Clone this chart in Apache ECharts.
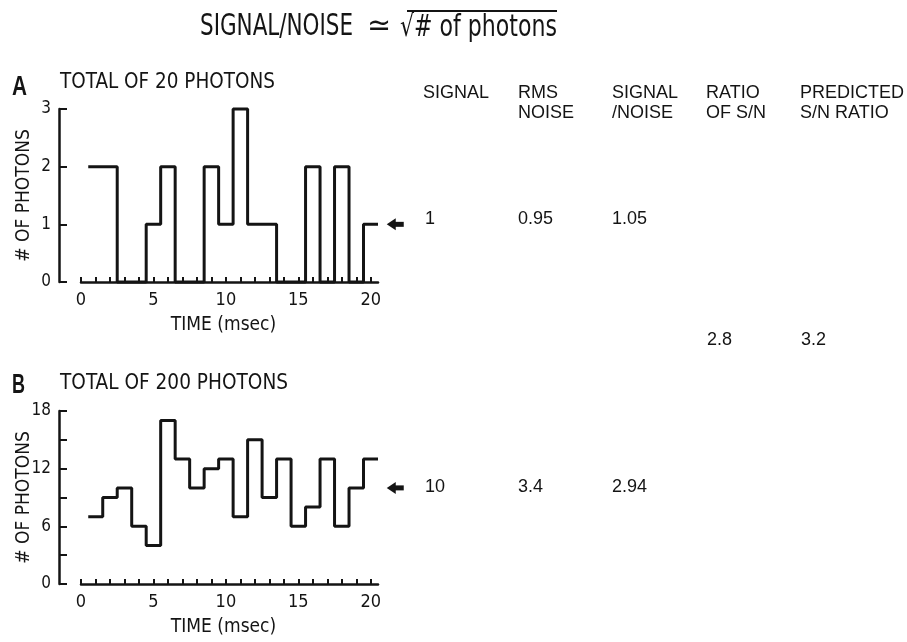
<!DOCTYPE html>
<html><head><meta charset="utf-8">
<script src="https://cdn.jsdelivr.net/npm/echarts@6/dist/echarts.min.js"></script>
<style>html,body{margin:0;padding:0;background:#fff}#c{width:907px;height:642px}</style>
</head><body><div id="c"></div>
<script>
// ---- data ----
const binCenters = [1,2,3,4,5,6,7,8,9,10,11,12,13,14,15,16,17,18,19,20]; // msec
const photonsA = [2,2,0,0,1,2,0,0,2,1,3,1,1,0,0,2,0,2,0,1];
const photonsB = [7,9,10,6,4,17,13,10,12,13,7,15,9,13,6,8,13,6,10,13];
const xTickLabels = [0,5,10,15,20];
const xMinorTicks = [0,1,2,3,4,5,6,7,8,9,10,11,12,13,14,15,16,17,18,19,20];
const yTickLabelsA = [0,1,2,3];
const yTicksB = [0,3,6,9,12,15,18];
const yTickLabelsB = [0,6,12,18];
const panelLetters = ['A','B'];
const panelTitles = ['TOTAL OF 20 PHOTONS','TOTAL OF 200 PHOTONS'];
const signals = [1, 10];
const rmsNoise = [0.95, 3.4];
const signalToNoise = [1.05, 2.94];
const ratioOfSN = 2.8;
const predictedSN = 3.2;
const tableHeaders = [['SIGNAL'],['RMS','NOISE'],['SIGNAL','/NOISE'],['RATIO','OF S/N'],['PREDICTED','S/N RATIO']];
const titleParts = ['SIGNAL/NOISE','\u2243','\u221A# of photons'];

// ---- style ----
const INK = '#141414';
const COND = "'DejaVu Sans Condensed','Liberation Sans Narrow','Roboto Condensed','DejaVu Sans',sans-serif";
const SANS = "'Liberation Sans',Arial,'Helvetica',sans-serif";

function stepData(vals){
  const d = binCenters.map((t,i)=>[t-0.5, vals[i]]);
  d.push([binCenters[binCenters.length-1]+0.5, vals[vals.length-1]]);
  return d;
}

const mctx = document.createElement('canvas').getContext('2d');
function fitScale(text, font, w){ mctx.font = font; return w / mctx.measureText(text).width; }
function txt(text, x, y, size, family, width, opts){
  opts = opts || {};
  const weight = opts.weight || 'normal';
  const font = weight + ' ' + size + 'px ' + family;
  const el = {type:'text', x:x, y:y, style:{text:text, font:font, fill:INK, textAlign:'left', textVerticalAlign:'middle'}};
  if (width) el.scaleX = fitScale(text, font, width);
  return el;
}

function xAxisCfg(gi){
  return {gridIndex:gi, type:'value', min:0, max:20.5,
    axisLine:{show:true, onZero:false, lineStyle:{color:INK, width:2.5}},
    axisTick:{show:true, inside:true, length:5, customValues:xMinorTicks, lineStyle:{color:INK, width:2}},
    axisLabel:{customValues:xTickLabels, margin:9, fontFamily:COND, fontSize:18, color:INK},
    splitLine:{show:false},
    name:'TIME (msec)', nameLocation:'middle', nameGap:34, nameMoveOverlap:false,
    nameTextStyle:{fontFamily:COND, fontSize:19, color:INK, padding:[0,12,0,0]}};
}
function yAxisCfg(gi, max, ticks, labels){
  return {gridIndex:gi, type:'value', min:0, max:max, offset:22,
    axisLine:{show:true, onZero:false, lineStyle:{color:INK, width:2.5}},
    axisTick:{show:true, inside:true, length:8, customValues:ticks, lineStyle:{color:INK, width:2}},
    axisLabel:{customValues:labels, margin:8, fontFamily:COND, fontSize:17, color:INK},
    splitLine:{show:false},
    name:'# OF PHOTONS', nameLocation:'middle', nameRotate:90, nameGap:25, nameMoveOverlap:false,
    nameTextStyle:{fontFamily:COND, fontSize:19, color:INK}};
}

const chart = echarts.init(document.getElementById('c'), null, {renderer:'canvas'});
chart.setOption({
  animation:false,
  backgroundColor:'#ffffff',
  grid:[
    {left:81, top:109, width:297, height:173, outerBoundsMode:'none', containLabel:false},
    {left:81, top:411, width:297, height:173, outerBoundsMode:'none', containLabel:false}
  ],
  xAxis:[xAxisCfg(0), xAxisCfg(1)],
  yAxis:[yAxisCfg(0, 3, yTickLabelsA, yTickLabelsA), yAxisCfg(1, 18, yTicksB, yTickLabelsB)],
  series:[
    {type:'line', xAxisIndex:0, yAxisIndex:0, step:'end', symbol:'none', clip:false,
     lineStyle:{color:INK, width:3}, data:stepData(photonsA)},
    {type:'line', xAxisIndex:1, yAxisIndex:1, step:'end', symbol:'none', clip:false,
     lineStyle:{color:INK, width:3}, data:stepData(photonsB)}
  ]
});

// ---- annotations ----
const g = [];
// title
g.push(txt(titleParts[0], 200, 27, 30, COND, 153));
g.push(txt(titleParts[1], 367, 27, 30, COND, 24));
g.push(txt(titleParts[2], 400, 28, 30, COND, 157));
g.push({type:'line', shape:{x1:407, y1:11, x2:557, y2:11}, style:{stroke:INK, lineWidth:2}});
// panel labels
const letterY = [88, 386], letterW = [15, 13], titleY = [83, 384], titleW = [215, 228];
panelLetters.forEach((L,i)=>{
  g.push(txt(L, 12, letterY[i], 27, SANS, letterW[i], {weight:'bold'}));
  g.push(txt(panelTitles[i], 60, titleY[i], 21, COND, titleW[i]));
});
// table headers
const colX = [423, 518, 612, 706, 800];
tableHeaders.forEach((lines,c)=>{
  lines.forEach((s,k)=> g.push(txt(s, colX[c], 93 + k*20, 18, SANS)));
});
// arrows and signal rows
[photonsA, photonsB].forEach((vals,i)=>{
  const p = chart.convertToPixel({gridIndex:i}, [20, signals[i]]);
  const tip = p[0] + 16, y = p[1];
  g.push({type:'polygon', shape:{points:[[tip,y],[tip+9,y-6],[tip+9,y+6]]}, style:{fill:INK}});
  g.push({type:'rect', shape:{x:tip+8, y:y-2.5, width:9, height:5}, style:{fill:INK}});
  const rowY = y - (i ? 1 : 5);
  g.push(txt(String(signals[i]), colX[0]+2, rowY, 18, SANS));
  g.push(txt(String(rmsNoise[i]), colX[1], rowY, 18, SANS));
  g.push(txt(String(signalToNoise[i]), colX[2], rowY, 18, SANS));
});
g.push(txt(String(ratioOfSN), colX[3]+1, 340, 18, SANS));
g.push(txt(String(predictedSN), colX[4]+1, 340, 18, SANS));
chart.setOption({graphic:g});
</script></body></html>
